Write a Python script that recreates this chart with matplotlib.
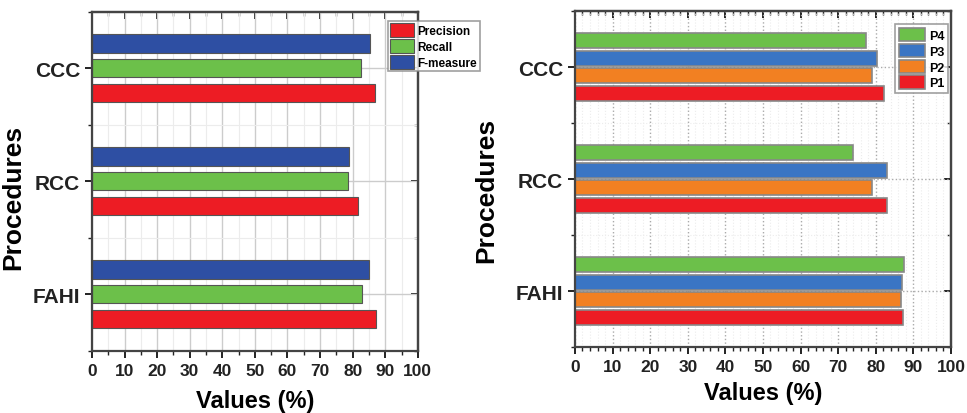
import numpy as np
import matplotlib.pyplot as plt
from matplotlib.ticker import MultipleLocator

plt.rcParams['font.family'] = ['Liberation Sans', 'DejaVu Sans']
plt.rcParams['font.weight'] = 'bold'

procedures = ['FAHI', 'RCC', 'CCC']

# left panel
metric_names = ['Precision', 'Recall', 'F-measure']
precision = [87.1, 81.5, 86.8]
recall = [83.0, 78.6, 82.7]
f_measure = [85.0, 78.8, 85.3]

# right panel
p_names = ['P1', 'P2', 'P3', 'P4']
p1 = [87.2, 83.0, 82.1]
p2 = [86.8, 78.9, 79.0]
p3 = [86.9, 82.9, 80.4]
p4 = [87.4, 74.0, 77.4]

xticks = np.arange(0, 101, 10)

fig = plt.figure(figsize=(9.67, 4.14), dpi=100)
ax1 = fig.add_axes([0.0951, 0.150, 0.337, 0.819])
ax2 = fig.add_axes([0.5946, 0.1594, 0.3888, 0.8116])

y = np.arange(len(procedures))


def style_axes(ax, minor_step, grid_ls, grid_color, xlab_pad, ylab_y):
    ax.set_xlim(0, 100)
    ax.set_ylim(-0.5, 2.5)
    ax.set_xticks(xticks)
    ax.xaxis.set_minor_locator(MultipleLocator(minor_step))
    ax.set_yticks(y)
    ax.set_yticklabels(procedures, fontsize=15, fontweight='bold')
    ax.yaxis.set_minor_locator(MultipleLocator(0.5))
    ax.grid(True, which='major', ls=grid_ls, color=grid_color, lw=1.0)
    ax.grid(True, which='minor', ls=grid_ls, color='#ececec', lw=0.8)
    ax.set_axisbelow(True)
    for s in ax.spines.values():
        s.set_color('#444444')
        s.set_linewidth(1.6)
    ax.tick_params(axis='x', which='both', direction='out', labelsize=12.5, colors='#222222')
    ax.tick_params(axis='y', which='both', direction='out', labelsize=15, colors='#222222')
    ax.tick_params(which='major', length=5, width=1.4)
    ax.tick_params(which='minor', length=3, width=1.0)
    for lab in ax.get_xticklabels():
        lab.set_fontweight('bold')
    ax.set_xlabel('Values (%)', fontsize=17, fontweight='bold', labelpad=xlab_pad)
    ax.set_ylabel('Procedures', fontsize=19, fontweight='bold')
    ax.yaxis.set_label_coords(-0.205, ylab_y)

    # mirrored ticks pointing inward on top and right
    top = ax.secondary_xaxis('top')
    top.set_xticks(xticks)
    top.xaxis.set_minor_locator(MultipleLocator(minor_step))
    top.tick_params(which='both', direction='in', labeltop=False, colors='#222222')
    top.tick_params(which='major', length=5, width=1.4)
    top.tick_params(which='minor', length=3, width=1.0)
    top.spines['top'].set_color('#444444')
    top.spines['top'].set_linewidth(1.6)
    right = ax.secondary_yaxis('right')
    right.set_yticks(y)
    right.yaxis.set_minor_locator(MultipleLocator(0.5))
    right.tick_params(which='both', direction='in', labelright=False, colors='#222222')
    right.tick_params(which='major', length=5, width=1.4)
    right.tick_params(which='minor', length=3, width=1.0)
    right.spines['right'].set_color('#444444')
    right.spines['right'].set_linewidth(1.6)


# ---- left chart
h1 = 0.16
d1 = 0.22
ax1.barh(y - d1, precision, height=h1, color='#ED1C24', edgecolor='#555555', lw=0.8, label='Precision')
ax1.barh(y, recall, height=h1, color='#6CC04A', edgecolor='#555555', lw=0.8, label='Recall')
ax1.barh(y + d1, f_measure, height=h1, color='#2E4FA3', edgecolor='#555555', lw=0.8, label='F-measure')
style_axes(ax1, 5, '-', '#cccccc', 8, 0.457)
leg1 = ax1.legend(loc='upper left', bbox_to_anchor=(388 / 967, 1 - 22 / 414), bbox_transform=fig.transFigure,
                  fontsize=8.5, frameon=True, fancybox=False, borderpad=0.2, labelspacing=0.15,
                  handlelength=2.0, handleheight=1.45, handletextpad=0.3, borderaxespad=0)
leg1.get_frame().set_edgecolor('#888888')
leg1.get_frame().set_linewidth(1.2)

# ---- right chart
h2 = 0.135
d2 = 0.156
ax2.barh(y - 1.5 * d2, p1, height=h2, color='#ED1C24', edgecolor='#888888', lw=1.2, label='P1')
ax2.barh(y - 0.5 * d2, p2, height=h2, color='#F28022', edgecolor='#888888', lw=1.2, label='P2')
ax2.barh(y + 0.5 * d2, p3, height=h2, color='#3A75C4', edgecolor='#888888', lw=1.2, label='P3')
ax2.barh(y + 1.5 * d2, p4, height=h2, color='#6CC04A', edgecolor='#888888', lw=1.2, label='P4')
style_axes(ax2, 2, ':', '#aaaaaa', 5, 0.47)
handles, labels = ax2.get_legend_handles_labels()
leg2 = ax2.legend(handles[::-1], labels[::-1], loc='upper right', bbox_to_anchor=(948 / 967, 1 - 25 / 414),
                  bbox_transform=fig.transFigure, fontsize=9, frameon=True, fancybox=False,
                  borderpad=0.3, labelspacing=0.15, handlelength=2.1, handleheight=1.3,
                  handletextpad=0.3, borderaxespad=0)
leg2.get_frame().set_edgecolor('#888888')
leg2.get_frame().set_linewidth(1.2)

fig.savefig('out.png', dpi=100)
